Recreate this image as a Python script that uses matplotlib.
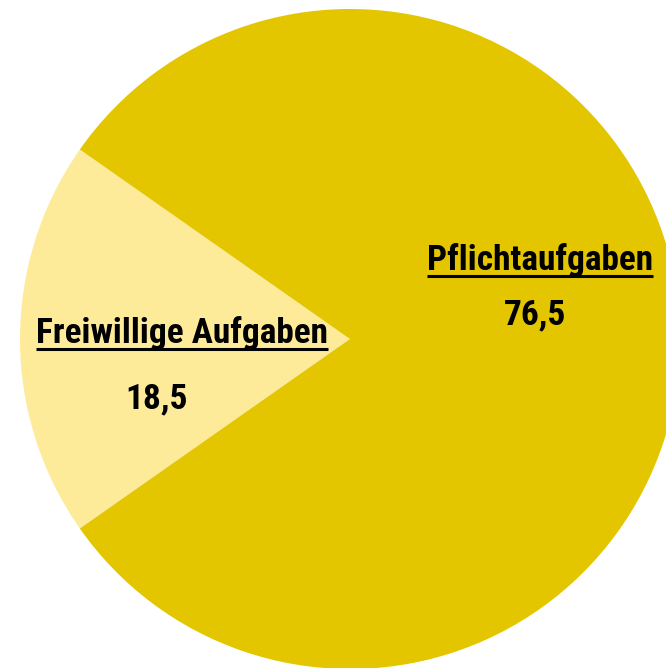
import matplotlib
matplotlib.use('Agg')
import matplotlib.pyplot as plt

# Data
labels = ['Freiwillige Aufgaben', 'Pflichtaufgaben']
values = [18.5, 76.5]
value_labels = ['18,5', '76,5']
colors = ['#FEEB9A', '#E3C500']

font = ['Roboto Condensed', 'Liberation Sans', 'DejaVu Sans']

fig = plt.figure(figsize=(6.66, 6.68), dpi=100)
ax = fig.add_axes([0, 0, 1, 1])

# light slice centred on the left side
start = 180 - values[0] / sum(values) * 360 / 2
ax.pie(values, colors=colors, center=(350, 339), radius=330,
       startangle=start, counterclock=True, frame=True,
       wedgeprops=dict(linewidth=0))
ax.set_xlim(0, 666)
ax.set_ylim(668, 0)
ax.set_aspect('equal')
ax.axis('off')

# label positions (pixels, baseline)
name_pos = [(182, 343), (540, 270)]
num_pos = [(157, 408), (535, 324)]

fig.canvas.draw()
renderer = fig.canvas.get_renderer()
for lab, num, (nx, ny), (vx, vy) in zip(labels, value_labels, name_pos, num_pos):
    t = ax.text(nx, ny, lab, ha='center', va='baseline', fontsize=25.5,
                fontweight='bold', family=font, color='black')
    ax.text(vx, vy, num, ha='center', va='baseline', fontsize=25.5,
            fontweight='bold', family=font, color='black')
    bb = t.get_window_extent(renderer)
    inv = ax.transData.inverted()
    (x0, _), (x1, _) = inv.transform([(bb.x0, bb.y0), (bb.x1, bb.y1)])
    ax.plot([x0, x1], [ny + 6, ny + 6], color='black', lw=2.2,
            solid_capstyle='butt')

fig.savefig('out.png', dpi=100, facecolor='white')
